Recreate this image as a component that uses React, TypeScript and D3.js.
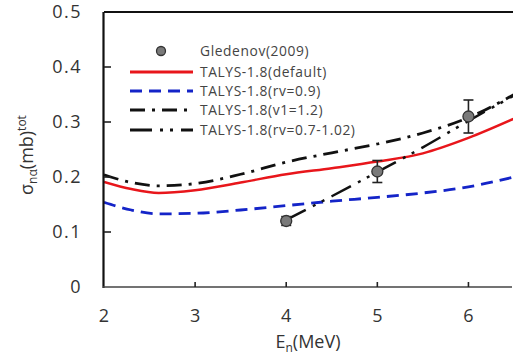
import React from "react";
import * as d3 from "d3";

const W = 513;
const H = 358;

const xTicks = [2, 3, 4, 5, 6];
const yTicks = [0, 0.1, 0.2, 0.3, 0.4, 0.5];
const yTickLabels = ["0", "0.1", "0.2", "0.3", "0.4", "0.5"];

const energies = [2, 2.3, 2.6, 3, 3.5, 4, 4.5, 5, 5.5, 6, 6.5];
const talysDefault = [0.191, 0.178, 0.171, 0.176, 0.19, 0.205, 0.216, 0.228, 0.243, 0.271, 0.306];
const talysRv09 = [0.154, 0.14, 0.133, 0.134, 0.14, 0.148, 0.156, 0.163, 0.171, 0.182, 0.2];
const talysV1 = [0.204, 0.19, 0.184, 0.188, 0.205, 0.227, 0.244, 0.26, 0.28, 0.308, 0.35];
const rvEnergies = [4, 4.5, 5, 5.5, 6, 6.5];
const talysRvRange = [0.122, 0.165, 0.209, 0.254, 0.302, 0.348];

const expEnergies = [4, 5, 6];
const expValues = [0.12, 0.21, 0.31];
const expErrors = [0.008, 0.02, 0.03];

const legendLabels = [
  "Gledenov(2009)",
  "TALYS-1.8(default)",
  "TALYS-1.8(rv=0.9)",
  "TALYS-1.8(v1=1.2)",
  "TALYS-1.8(rv=0.7-1.02)",
];

const FONT = "'Open Sans', sans-serif";

export default function App() {
  const x = d3.scaleLinear().domain([2, 6.5]).range([104, 514]);
  const y = d3.scaleLinear().domain([0, 0.5]).range([287, 12]);

  const line = d3
    .line<[number, number]>()
    .x((d) => x(d[0]))
    .y((d) => y(d[1]))
    .curve(d3.curveMonotoneX);

  const zip = (xs: number[], ys: number[]) => xs.map((v, i) => [v, ys[i]] as [number, number]);

  const series = [
    { data: zip(energies, talysDefault), color: "#e8161b", dash: "", width: 2.5 },
    { data: zip(energies, talysRv09), color: "#1424c8", dash: "12,7", width: 2.8 },
    { data: zip(energies, talysV1), color: "#111", dash: "15,7,3,7", width: 2.8 },
    { data: zip(rvEnergies, talysRvRange), color: "#111", dash: "22,8,3,7,3,8", width: 2.5 },
  ];

  const legendX0 = 130;
  const legendX1 = 193;
  const legendY = [51, 72, 91, 110, 130];

  return (
    <svg width={W} height={H} style={{ position: "absolute", left: 0, top: 0, background: "#fff" }}>
      <defs>
        <clipPath id="plot">
          <rect x={104} y={12} width={410} height={275} />
        </clipPath>
      </defs>

      {/* curves */}
      <g clipPath="url(#plot)">
        {series.map((s, i) => (
          <path
            key={i}
            d={line(s.data) || ""}
            fill="none"
            stroke={s.color}
            strokeWidth={s.width}
            strokeDasharray={s.dash}
          />
        ))}
      </g>

      {/* experimental points */}
      {expEnergies.map((e, i) => {
        const cx = x(e);
        const cy = y(expValues[i]);
        const top = y(expValues[i] + expErrors[i]);
        const bot = y(expValues[i] - expErrors[i]);
        return (
          <g key={i}>
            <line x1={cx} x2={cx} y1={top} y2={bot} stroke="#222" strokeWidth={1.6} />
            <line x1={cx - 5} x2={cx + 5} y1={top} y2={top} stroke="#222" strokeWidth={1.6} />
            <line x1={cx - 5} x2={cx + 5} y1={bot} y2={bot} stroke="#222" strokeWidth={1.6} />
            <circle cx={cx} cy={cy} r={5.5} fill="#7a7a7a" stroke="#333" strokeWidth={1.3} />
          </g>
        );
      })}

      {/* axes frame */}
      <line x1={104} x2={514} y1={12} y2={12} stroke="#111" strokeWidth={1.8} />
      <line x1={103.5} x2={103.5} y1={12} y2={288} stroke="#111" strokeWidth={2.2} />
      <line x1={103} x2={512} y1={287} y2={287} stroke="#444" strokeWidth={1.4} />

      {/* x ticks */}
      {xTicks.map((t) => (
        <g key={t}>
          {t !== 2 && (
            <line x1={x(t)} x2={x(t)} y1={287} y2={282} stroke="#222" strokeWidth={1.6} />
          )}
          <text
            x={x(t)}
            y={322}
            textAnchor="middle"
            fontFamily={FONT}
            fontSize={18}
            fill="#333"
          >
            {t}
          </text>
        </g>
      ))}

      {/* y ticks */}
      {yTicks.map((t, i) => (
        <g key={t}>
          {t > 0 && t < 0.5 && (
            <line x1={104} x2={111} y1={y(t)} y2={y(t)} stroke="#222" strokeWidth={1.6} />
          )}
          <text
            x={82}
            y={y(t) + 6}
            textAnchor="end"
            fontFamily={FONT}
            fontSize={18}
            letterSpacing={1.5}
            fill="#333"
          >
            {yTickLabels[i]}
          </text>
        </g>
      ))}

      {/* x label */}
      <text x={308} y={348} textAnchor="middle" fontFamily={FONT} fontSize={18} fill="#333">
        E
        <tspan fontSize={12} dy={4}>n</tspan>
        <tspan dy={-4}>(MeV)</tspan>
      </text>

      {/* y label */}
      <text
        transform="translate(33,155) rotate(-90)"
        textAnchor="middle"
        fontFamily={FONT}
        fontSize={18}
        fill="#333"
      >
        σ
        <tspan fontSize={12} dy={4}>nα</tspan>
        <tspan dy={-4}>(mb)</tspan>
        <tspan fontSize={12} dy={-7}>tot</tspan>
      </text>

      {/* legend */}
      <circle cx={161} cy={legendY[0]} r={4.5} fill="#7a7a7a" stroke="#333" strokeWidth={1.3} />
      {series.map((s, i) => (
        <line
          key={i}
          x1={legendX0}
          x2={legendX1}
          y1={legendY[i + 1]}
          y2={legendY[i + 1]}
          stroke={s.color}
          strokeWidth={s.width + 0.3}
          strokeDasharray={s.dash}
        />
      ))}
      {legendLabels.map((l, i) => (
        <text
          key={l}
          x={200}
          y={legendY[i] + 5}
          fontFamily={FONT}
          fontSize={13.8}
          letterSpacing={0.6}
          fill="#444"
        >
          {l}
        </text>
      ))}
    </svg>
  );
}
